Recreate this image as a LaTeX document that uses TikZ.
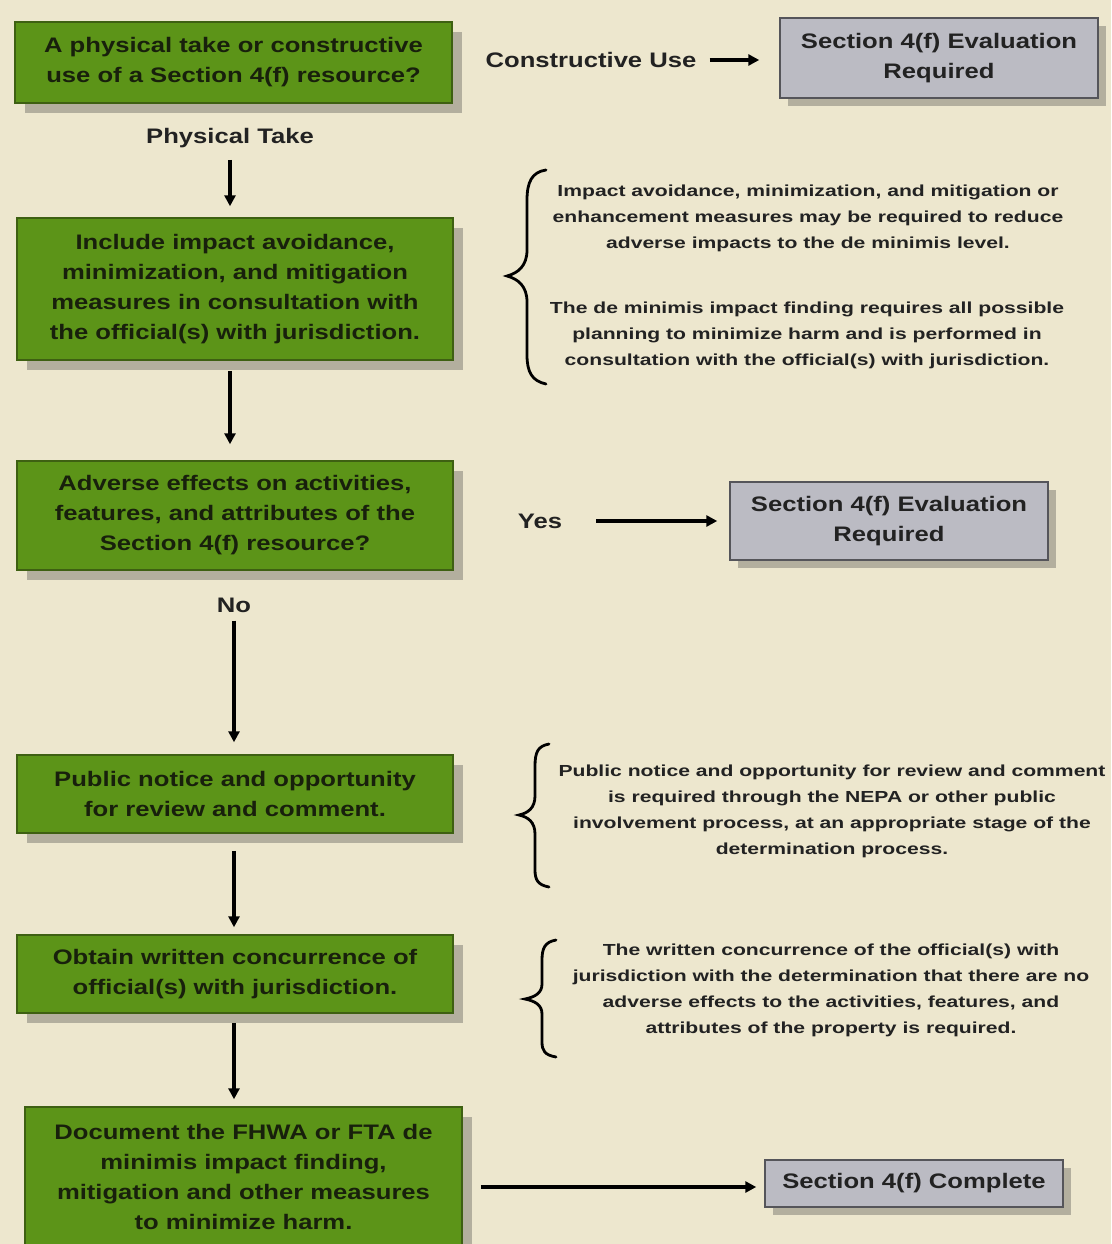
\documentclass[tikz,border=0pt]{standalone}
\usepackage{fontspec}
\setmainfont{Liberation Sans}
\newfontfamily\boxfont{Liberation Sans}[FakeStretch=1.22]
\newfontfamily\notefont{Liberation Sans}[FakeStretch=1.32]
\usetikzlibrary{arrows.meta,shadows}
\definecolor{bg}{HTML}{EDE7CE}
\definecolor{grn}{HTML}{5C9418}
\definecolor{grnb}{HTML}{3E6012}
\definecolor{gry}{HTML}{BBBBC3}
\definecolor{gryb}{HTML}{55555A}
\definecolor{shd}{HTML}{B3AF9E}
\definecolor{txt}{HTML}{18200C}
\definecolor{ink}{HTML}{222222}
\begin{document}
\begin{tikzpicture}[x=1pt,y=-1pt,
  gbox/.style={draw=grnb, line width=1.5pt, fill=grn, text=txt, align=center, inner sep=0pt,
    font=\boxfont\fontsize{21}{30}\selectfont\bfseries,
    drop shadow={shadow xshift=10pt, shadow yshift=-10pt, fill=shd, opacity=1}},
  graybox/.style={draw=gryb, line width=1.5pt, fill=gry, text=ink, align=center, inner sep=0pt,
    font=\boxfont\fontsize{21}{30}\selectfont\bfseries,
    drop shadow={shadow xshift=8pt, shadow yshift=-8pt, fill=shd, opacity=1}},
  lbl/.style={text=ink, inner sep=0pt, font=\boxfont\fontsize{21}{26}\selectfont\bfseries},
  note/.style={text=ink, align=center, inner sep=0pt, font=\notefont\fontsize{16}{26}\selectfont\bfseries},
  arr/.style={draw=black, line width=3.4pt, -{Triangle[length=11pt,width=11pt]}},
  brc/.style={draw=black, line width=2.8pt, line cap=round}
]
\clip (0,0) rectangle (1111,1244);
\fill[bg] (0,0) rectangle (1111,1244);

% green boxes
\node[gbox, minimum width=437pt, minimum height=81pt] (b1) at (233.5,62.5) {A physical take or constructive\\use of a Section 4(f) resource?};
\node[gbox, minimum width=436pt, minimum height=142pt] (b2) at (235,289) {Include impact avoidance,\\minimization, and mitigation\\measures in consultation with\\the official(s) with jurisdiction.};
\node[gbox, minimum width=436pt, minimum height=109pt] (b3) at (235,515.5) {Adverse effects on activities,\\features, and attributes of the\\Section 4(f) resource?};
\node[gbox, minimum width=436pt, minimum height=78pt] (b4) at (235,794) {Public notice and opportunity\\for review and comment.};
\node[gbox, minimum width=436pt, minimum height=78pt] (b5) at (235,974) {Obtain written concurrence of\\official(s) with jurisdiction.};
\node[gbox, minimum width=437pt, minimum height=140pt] (b6) at (243.5,1177) {Document the FHWA or FTA de\\minimis impact finding,\\mitigation and other measures\\to minimize harm.};

% gray boxes
\node[graybox, minimum width=318pt, minimum height=80pt] (g1) at (939,58) {Section 4(f) Evaluation\\Required};
\node[graybox, minimum width=318pt, minimum height=78pt] (g2) at (889,521) {Section 4(f) Evaluation\\Required};
\node[graybox, minimum width=298pt, minimum height=47pt] (g3) at (914,1183.5) {Section 4(f) Complete};

% labels
\node[lbl] (cu) at (591,60) {Constructive Use};
\node[lbl] (pt) at (230,138) {Physical Take};
\node[lbl] (yes) at (540,521) {Yes};
\node[lbl] (no) at (234,605) {No};

% arrows
\draw[arr, shorten <=13pt, shorten >=20pt] (cu.east) -- (cu.east -| g1.west);
\draw[arr, shorten <=12pt, shorten >=11pt] (pt.south) -- (pt.south |- b2.north);
\draw[arr, shorten <=10pt, shorten >=16pt] (b2.south -| pt) -- (b3.north -| pt);
\draw[arr, shorten <=34pt, shorten >=12pt] (yes.east) -- (g2.west);
\draw[arr, shorten <=8pt, shorten >=12pt] (no.south) -- (no.south |- b4.north);
\draw[arr, shorten <=17pt, shorten >=7pt] (b4.south -| no) -- (b5.north -| no);
\draw[arr, shorten <=9pt, shorten >=7pt] (b5.south -| no) -- (b6.north -| no);
\draw[arr, shorten <=18pt, shorten >=8pt] (b6.east |- 0,1187) -- (g3.west |- 0,1187);

% braces
\draw[brc] (546,170) .. controls (532,172) and (527,182) .. (527,200) -- (527,250)
  .. controls (527,266) and (518,273) .. (507,276)
  .. controls (518,279) and (527,286) .. (527,302) -- (527,355)
  .. controls (527,372) and (532,381) .. (546,384);
\draw[brc] (549,744) .. controls (538,746) and (535,752) .. (535,766) -- (535,796)
  .. controls (535,808) and (528,813) .. (519,815)
  .. controls (528,817) and (535,822) .. (535,834) -- (535,870)
  .. controls (535,880) and (538,885) .. (549,887);
\draw[brc] (556,940) .. controls (545,942) and (542,948) .. (542,960) -- (542,984)
  .. controls (542,993) and (535,997) .. (525,999)
  .. controls (535,1001) and (542,1005) .. (542,1014) -- (542,1042)
  .. controls (542,1051) and (545,1055) .. (556,1057);

% notes
\node[note] (n1a) at (808,218) {Impact avoidance, minimization, and mitigation or\\enhancement measures may be required to reduce\\adverse impacts to the de minimis level.};
\node[note] (n1b) at (807,335) {The de minimis impact finding requires all possible\\planning to minimize harm and is performed in\\consultation with the official(s) with jurisdiction.};
\node[note] (n2) at (832,811) {Public notice and opportunity for review and comment\\is required through the NEPA or other public\\involvement process, at an appropriate stage of the\\determination process.};
\node[note] (n3) at (831,990) {The written concurrence of the official(s) with\\jurisdiction with the determination that there are no\\adverse effects to the activities, features, and\\attributes of the property is required.};
\end{tikzpicture}
\end{document}
